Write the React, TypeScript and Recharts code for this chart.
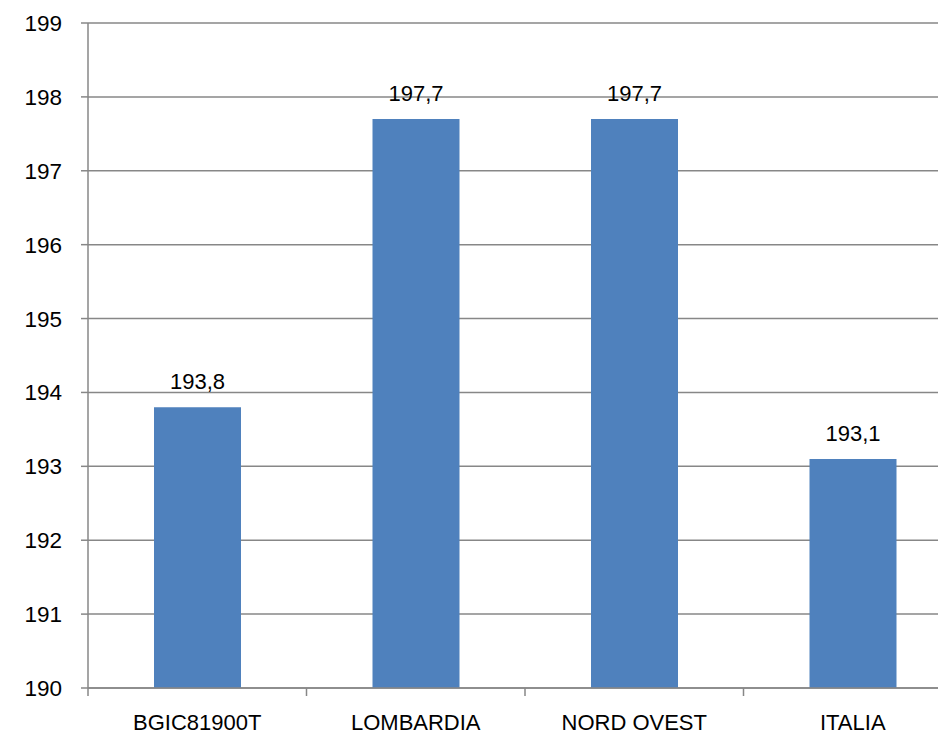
import React from 'react';
import { BarChart, Bar, XAxis, YAxis, CartesianGrid, LabelList } from 'recharts';

// categories and values
const categories = ['BGIC81900T', 'LOMBARDIA', 'NORD OVEST', 'ITALIA'];
const values = [193.8, 197.7, 197.7, 193.1];
const yTicks = [190, 191, 192, 193, 194, 195, 196, 197, 198, 199];

const FONT = '"Liberation Sans", Arial, sans-serif';
const GRID = '#878787';
const BAR = '#4F81BD';

// the plot in the original runs past the right edge and is cropped
const CHART_W = 962;
const CHART_H = 734;
const Y_W = 88;
const BAND = (CHART_W - Y_W) / categories.length;

const data = categories.map((name, i) => ({ name, value: values[i] }));

const fmt = (v: number) => v.toFixed(1).replace('.', ',');

// category label plus the boundary tick marks Excel draws between bars
function XTick(props: any) {
  const { x, y, payload, index } = props;
  const left = x - BAND / 2;
  return (
    <g>
      <line x1={left} x2={left} y1={y} y2={y + 8} stroke={GRID} strokeWidth={1.5} />
      {index === categories.length - 1 && (
        <line x1={left + BAND} x2={left + BAND} y1={y} y2={y + 8} stroke={GRID} strokeWidth={1.5} />
      )}
      <text x={x} y={y + 42} textAnchor="middle" fill="#000" fontSize={22} fontFamily={FONT}>
        {payload.value}
      </text>
    </g>
  );
}

export default function App() {
  return (
    <div
      style={{
        position: 'absolute',
        left: 0,
        top: 0,
        width: 938,
        height: 734,
        overflow: 'hidden',
        background: '#fff',
      }}
    >
      <BarChart
        width={CHART_W}
        height={CHART_H}
        data={data}
        margin={{ top: 23, right: 0, bottom: 0, left: 0 }}
      >
        <CartesianGrid vertical={false} stroke={GRID} strokeWidth={1.5} />
        <XAxis
          dataKey="name"
          height={46}
          axisLine={{ stroke: GRID, strokeWidth: 1.5 }}
          tickLine={false}
          tickSize={0}
          tickMargin={0}
          interval={0}
          tick={<XTick />}
        />
        <YAxis
          width={Y_W}
          domain={[190, 199]}
          ticks={yTicks}
          interval={0}
          allowDataOverflow
          axisLine={{ stroke: GRID, strokeWidth: 1.5 }}
          tickLine={{ stroke: GRID, strokeWidth: 1.5 }}
          tickSize={7}
          tickMargin={19}
          tick={{ fill: '#000', fontSize: 22.5, fontFamily: FONT }}
        />
        <Bar dataKey="value" fill={BAR} barSize={87} isAnimationActive={false}>
          <LabelList
            dataKey="value"
            position="top"
            offset={18}
            formatter={(v: any) => fmt(Number(v))}
            style={{ fill: '#000', fontSize: 22, fontFamily: FONT }}
          />
        </Bar>
      </BarChart>
    </div>
  );
}
